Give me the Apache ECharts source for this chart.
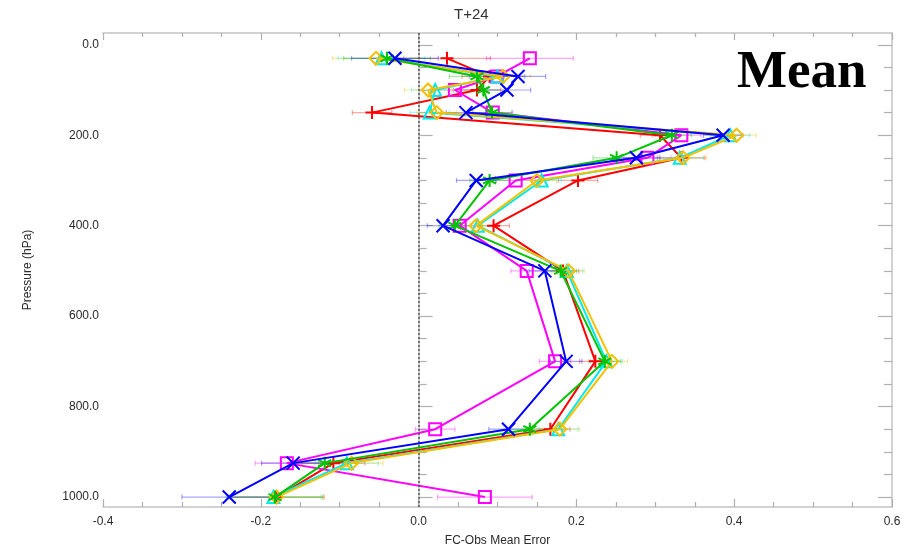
<!DOCTYPE html>
<html>
<head>
<meta charset="utf-8">
<script src="https://cdn.jsdelivr.net/npm/echarts@6/dist/echarts.min.js"></script>
<style>html,body{margin:0;padding:0;background:#fff}#c{width:908px;height:552px}</style>
</head>
<body>
<div id="c"></div>
<script>
// ---- data ----
const levels = [30, 70, 100, 150, 200, 250, 300, 400, 500, 700, 850, 925, 1000];
const redPlus      = [0.036, 0.090, 0.074, -0.059, 0.306, 0.333, 0.202, 0.095, 0.183, 0.224, 0.167, -0.108, -0.180];
const magentaSq    = [0.141, 0.099, 0.046, 0.094, 0.333, 0.290, 0.123, 0.052, 0.137, 0.173, 0.021, -0.167, 0.084];
const greenStar    = [-0.040, 0.074, 0.082, 0.093, 0.321, 0.251, 0.090, 0.046, 0.180, 0.236, 0.141, -0.119, -0.182];
const cyanTri      = [-0.047, 0.100, 0.021, 0.014, 0.395, 0.331, 0.156, 0.075, 0.188, 0.238, 0.177, -0.091, -0.184];
const yellowDiam   = [-0.054, 0.107, 0.012, 0.023, 0.403, 0.335, 0.150, 0.073, 0.190, 0.245, 0.179, -0.085, -0.180];
const blueX        = [-0.030, 0.126, 0.112, 0.060, 0.386, 0.276, 0.073, 0.031, 0.160, 0.187, 0.114, -0.159, -0.240];
const errHalf      = [0.055, 0.035, 0.030, 0.025, 0.025, 0.030, 0.025, 0.020, 0.020, 0.020, 0.025, 0.040, 0.060];
const yMajorTicks  = [0, 200, 400, 600, 800, 1000];
const yMinorTicks  = [50, 100, 150, 250, 300, 350, 450, 500, 550, 650, 700, 750, 850, 900, 950];
const xTickLabels  = ['-0.4', '-0.2', '0.0', '0.2', '0.4', '0.6'];

const defs = [
  {name: 'red', vals: redPlus, color: '#ff0000', sym: 'path://M0,5L10,5M5,0L5,10', size: 13},
  {name: 'magenta', vals: magentaSq, color: '#ff00ff', sym: 'path://M0,0L10,0L10,10L0,10Z', size: 12},
  {name: 'cyan', vals: cyanTri, color: '#00eaea', sym: 'path://M5,0L10,10L0,10Z', size: 12},
  {name: 'yellow', vals: yellowDiam, color: '#f5c000', sym: 'path://M5,0L10,5L5,10L0,5Z', size: 13},
  {name: 'green', vals: greenStar, color: '#00c400', sym: 'path://M5,0L5,10M0,2.5L10,7.5M0,7.5L10,2.5', size: 13},
  {name: 'blue', vals: blueX, color: '#0000ff', sym: 'path://M0,0L10,10M10,0L0,10', size: 13}
];

const series = [];
defs.forEach(function (d, i) {
  const errData = d.vals.map(function (v, k) { return [v, levels[k], errHalf[k]]; });
  series.push({
    type: 'custom', xAxisIndex: 0, yAxisIndex: 0, z: 1, silent: true,
    encode: {x: 0, y: 1},
    data: errData,
    renderItem: function (params, api) {
      const v = api.value(0), p = api.value(1), e = api.value(2);
      const a = api.coord([v - e, p]), b = api.coord([v + e, p]);
      const st = {stroke: d.color, lineWidth: 1.2, opacity: 0.35};
      return {type: 'group', children: [
        {type: 'line', shape: {x1: a[0], y1: a[1], x2: b[0], y2: b[1]}, style: st},
        {type: 'line', shape: {x1: a[0], y1: a[1] - 2.5, x2: a[0], y2: a[1] + 2.5}, style: st},
        {type: 'line', shape: {x1: b[0], y1: b[1] - 2.5, x2: b[0], y2: b[1] + 2.5}, style: st}
      ]};
    }
  });
});
defs.forEach(function (d, i) {
  const s = {
    type: 'line', xAxisIndex: 0, yAxisIndex: 0, z: 3 + i,
    data: d.vals.map(function (v, k) { return [v, levels[k]]; }),
    symbol: d.sym, symbolSize: d.size, showSymbol: true,
    lineStyle: {color: d.color, width: 2},
    itemStyle: {color: 'rgba(0,0,0,0)', borderColor: d.color, borderWidth: 2},
    emphasis: {disabled: true}, animation: false
  };
  if (i === 0) {
    s.markLine = {
      silent: true, symbol: ['none', 'none'], label: {show: false},
      lineStyle: {color: '#555', width: 1.5, type: [2, 2]},
      data: [{xAxis: 0}], animation: false
    };
  }
  series.push(s);
});

const axisCol = '#c4c4c4';
const tickCol = '#b0b0b0';
const labelStyle = {color: '#2a2a2a', fontSize: 12, fontFamily: 'Liberation Sans, Arial, sans-serif'};

function yAx(pos, ticks, len, showLine, showLabel) {
  return {
    type: 'value', position: pos, min: -26, max: 1022, inverse: true,
    axisLine: {show: showLine, lineStyle: {color: axisCol, width: 1.5}},
    axisTick: {show: true, inside: true, length: len, customValues: ticks, lineStyle: {color: tickCol, width: 1.2}},
    axisLabel: showLabel ? Object.assign({show: true, customValues: yMajorTicks, margin: 4,
      formatter: function (v) { return Number(v).toFixed(1); }}, labelStyle) : {show: false},
    splitLine: {show: false}
  };
}

const option = {
  backgroundColor: '#ffffff',
  animation: false,
  grid: {left: 103, right: 16, top: 33, bottom: 39, containLabel: false},
  xAxis: [
    {
      type: 'value', position: 'bottom', min: -0.4, max: 0.6, interval: 0.2,
      axisLine: {show: true, onZero: false, lineStyle: {color: axisCol, width: 1.5}},
      axisTick: {show: true, inside: true, length: 8, lineStyle: {color: tickCol, width: 1.2}},
      minorTick: {show: true, splitNumber: 4, length: 5, lineStyle: {color: tickCol, width: 1.2}},
      axisLabel: Object.assign({margin: 9, formatter: function (v) {
        const idx = Math.round((v + 0.4) / 0.2); return xTickLabels[idx] !== undefined ? xTickLabels[idx] : '';
      }}, labelStyle),
      splitLine: {show: false},
      name: 'FC-Obs Mean Error', nameLocation: 'middle', nameGap: 28,
      nameTextStyle: {color: '#2a2a2a', fontSize: 12, fontFamily: 'Liberation Sans, Arial, sans-serif'}
    },
    {
      type: 'value', position: 'top', min: -0.4, max: 0.6, interval: 0.2,
      axisLine: {show: true, onZero: false, lineStyle: {color: axisCol, width: 1.5}},
      axisTick: {show: true, inside: true, length: 7, lineStyle: {color: tickCol, width: 1.2}},
      minorTick: {show: true, splitNumber: 4, length: 4, lineStyle: {color: tickCol, width: 1.2}},
      axisLabel: {show: false}, splitLine: {show: false}
    }
  ],
  yAxis: [
    Object.assign(yAx('left', yMajorTicks, 14, true, true), {
      name: 'Pressure (hPa)', nameLocation: 'middle', nameGap: 69, nameRotate: 90,
      nameTextStyle: {color: '#2a2a2a', fontSize: 12, fontFamily: 'Liberation Sans, Arial, sans-serif'}
    }),
    yAx('left', yMinorTicks, 8, false, false),
    yAx('right', yMajorTicks, 14, true, false),
    yAx('right', yMinorTicks, 8, false, false)
  ],
  graphic: [
    {type: 'text', left: 454, top: 7, style: {text: 'T+24', fill: '#333', fontSize: 15, fontFamily: 'Liberation Sans, Arial, sans-serif'}},
    {type: 'text', left: 737, top: 47, style: {text: 'Mean', fill: '#000', fontSize: 53, fontWeight: 'bold', fontFamily: 'Liberation Serif, Times New Roman, serif'}}
  ],
  series: series
};

const chart = echarts.init(document.getElementById('c'), null, {renderer: 'canvas'});
chart.setOption(option);
</script>
</body>
</html>
